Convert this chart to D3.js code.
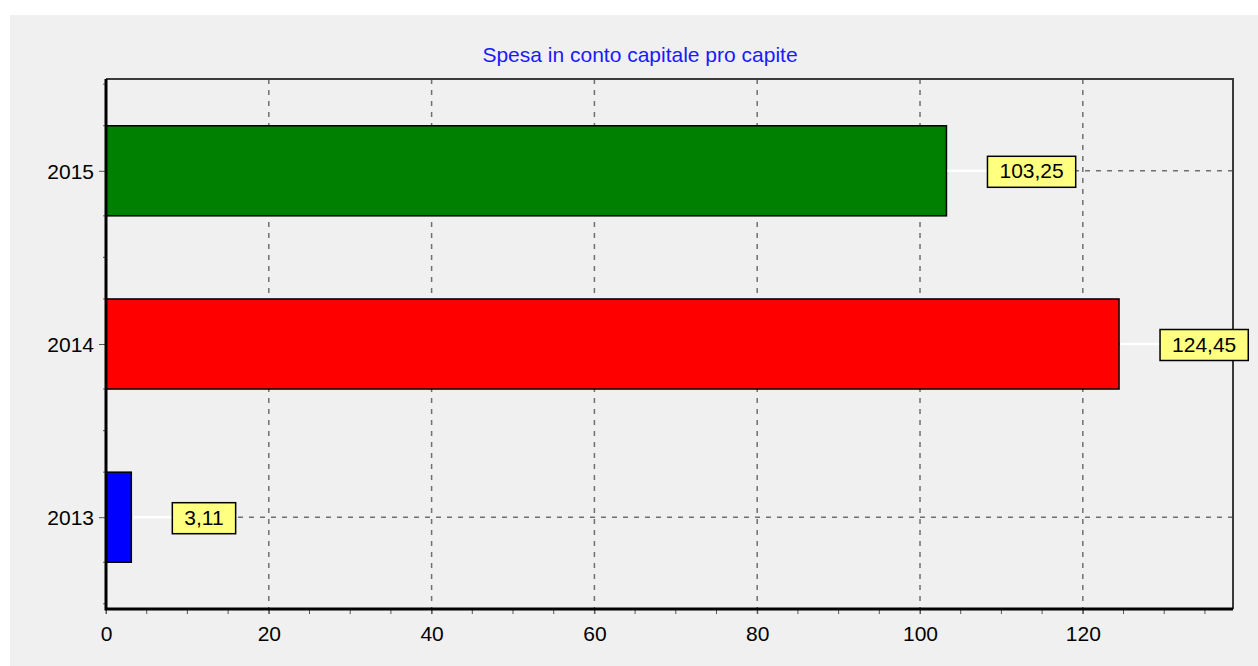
<!DOCTYPE html>
<html>
<head>
<meta charset="utf-8">
<script src="https://cdn.jsdelivr.net/npm/d3@7"></script>
<style>
    body { margin: 0; background: #ffffff; }
    text { font-family: Arial, "Liberation Sans", sans-serif; }
</style>
</head>
<body>
<div id="chart"></div>
<script>
// Chart data
let years = ['2013', '2014', '2015'];
let values = [3.11, 124.45, 103.25];
let barColors = ['#0000ff', '#ff0000', '#008000'];
let xTicks = [0, 20, 40, 60, 80, 100, 120];
let mainTitle = 'Spesa in conto capitale pro capite';

function createChart() {
    let W = 1258, H = 666;
    let plot = {left: 106, right: 1233, top: 79, bottom: 609};
    let fontSize = 21;

    // Italian number format (comma decimal)
    let itLocale = d3.formatLocale({decimal: ',', thousands: '.', grouping: [3], currency: ['€', '']});
    let fmt = itLocale.format('.2f');

    // Scales
    let scX = d3.scaleLinear().domain([0, 138.45]).range([plot.left, plot.right]);
    let scY = d3.scaleLinear().domain([2012.47, 2015.53]).range([plot.bottom, plot.top]);
    let color = d3.scaleOrdinal().domain(years).range(barColors);
    let halfBar = 0.26;

    let svg = d3.select('#chart')
        .append('svg')
            .attr('width', W)
            .attr('height', H);

    // Gray panel
    svg.append('rect')
        .attr('x', 10).attr('y', 15)
        .attr('width', W - 10).attr('height', H - 15)
        .attr('fill', '#f0f0f0');

    // Title
    svg.append('text')
        .attr('x', 640)
        .attr('y', 62)
        .attr('text-anchor', 'middle')
        .attr('fill', '#1a1aff')
        .style('font-size', fontSize + 'px')
        .text(mainTitle);

    // Vertical gridlines
    svg.selectAll('line.vgrid')
        .data(xTicks.filter(d => d > 0))
        .enter()
        .append('line')
            .attr('class', 'vgrid')
            .attr('x1', d => scX(d)).attr('x2', d => scX(d))
            .attr('y1', plot.top).attr('y2', plot.bottom)
            .attr('stroke', '#707070')
            .attr('stroke-width', 1.5)
            .attr('stroke-dasharray', '5,6');

    // Horizontal gridlines
    svg.selectAll('line.hgrid')
        .data(years)
        .enter()
        .append('line')
            .attr('class', 'hgrid')
            .attr('x1', plot.left).attr('x2', plot.right)
            .attr('y1', d => scY(+d)).attr('y2', d => scY(+d))
            .attr('stroke', '#707070')
            .attr('stroke-width', 1.5)
            .attr('stroke-dasharray', '5,6');

    // Bars
    svg.selectAll('rect.bar')
        .data(years)
        .enter()
        .append('rect')
            .attr('class', 'bar')
            .attr('x', scX(0))
            .attr('y', d => scY(+d + halfBar))
            .attr('width', (d, i) => scX(values[i]) - scX(0))
            .attr('height', d => scY(+d - halfBar) - scY(+d + halfBar))
            .attr('fill', d => color(d))
            .attr('stroke', '#000')
            .attr('stroke-width', 1.5);

    // Top and right frame
    svg.append('path')
        .attr('d', `M${plot.left},${plot.top}H${plot.right}V${plot.bottom}`)
        .attr('fill', 'none')
        .attr('stroke', '#3a3a3a')
        .attr('stroke-width', 2);

    // X axis with minor ticks
    let xMinor = d3.range(0, 136, 5);
    svg.selectAll('line.xminor')
        .data(xMinor)
        .enter()
        .append('line')
            .attr('class', 'xminor')
            .attr('x1', d => scX(d)).attr('x2', d => scX(d))
            .attr('y1', plot.bottom).attr('y2', plot.bottom + 5)
            .attr('stroke', '#555')
            .attr('stroke-width', 1);
    let xAxis = d3.axisBottom(scX)
        .tickValues(xTicks)
        .tickSize(5)
        .tickPadding(12)
        .tickFormat(d3.format('d'));
    let gx = svg.append('g')
        .attr('transform', `translate(0,${plot.bottom})`)
        .call(xAxis);
    gx.select('.domain').remove();
    gx.selectAll('.tick line').attr('stroke', '#555');
    gx.selectAll('.tick text')
        .attr('fill', '#000')
        .style('font-size', fontSize + 'px')
        .style('font-family', 'Arial, "Liberation Sans", sans-serif');

    // Y axis: minor ticks at bar edges and band edges
    let yMinor = [];
    years.forEach(y => {
        yMinor.push(+y - halfBar, +y + halfBar, +y - 0.5, +y + 0.5);
    });
    svg.selectAll('line.yminor')
        .data(yMinor)
        .enter()
        .append('line')
            .attr('class', 'yminor')
            .attr('x1', plot.left - 3).attr('x2', plot.left)
            .attr('y1', d => scY(d)).attr('y2', d => scY(d))
            .attr('stroke', '#666')
            .attr('stroke-width', 1);
    let yAxis = d3.axisLeft(scY)
        .tickValues(years.map(d => +d))
        .tickSize(7)
        .tickPadding(5)
        .tickFormat(d3.format('d'));
    let gy = svg.append('g')
        .attr('transform', `translate(${plot.left},0)`)
        .call(yAxis);
    gy.select('.domain').remove();
    gy.selectAll('.tick line').attr('stroke', '#555');
    gy.selectAll('.tick text')
        .attr('fill', '#000')
        .attr('dy', '0.36em')
        .style('font-size', fontSize + 'px')
        .style('font-family', 'Arial, "Liberation Sans", sans-serif');

    // Thick left and bottom axis lines
    svg.append('path')
        .attr('d', `M${plot.left},${plot.top}V${plot.bottom}H${plot.right}`)
        .attr('fill', 'none')
        .attr('stroke', '#000')
        .attr('stroke-width', 3);

    // Value labels with white leader lines
    let gap = 41, padX = 12, boxH = 31;
    let labs = svg.selectAll('g.label')
        .data(years)
        .enter()
        .append('g')
            .attr('class', 'label');
    labs.append('line')
        .attr('x1', (d, i) => scX(values[i]) + 1)
        .attr('x2', (d, i) => scX(values[i]) + gap)
        .attr('y1', d => scY(+d)).attr('y2', d => scY(+d))
        .attr('stroke', '#ffffff')
        .attr('stroke-width', 2.5);
    let boxes = labs.append('rect');
    let texts = labs.append('text')
        .attr('y', d => scY(+d))
        .attr('dy', '0.36em')
        .attr('text-anchor', 'middle')
        .attr('fill', '#000')
        .style('font-size', fontSize + 'px')
        .text((d, i) => fmt(values[i]));
    texts.each(function(d, i) {
        let w = this.getComputedTextLength() + 2 * padX;
        let x0 = scX(values[i]) + gap;
        d3.select(this).attr('x', x0 + w / 2);
        d3.select(boxes.nodes()[i])
            .attr('x', x0)
            .attr('y', scY(+d) - boxH / 2 + 1)
            .attr('width', w)
            .attr('height', boxH)
            .attr('fill', '#ffff80')
            .attr('stroke', '#000')
            .attr('stroke-width', 1.5);
    });
}

createChart();
</script>
</body>
</html>
